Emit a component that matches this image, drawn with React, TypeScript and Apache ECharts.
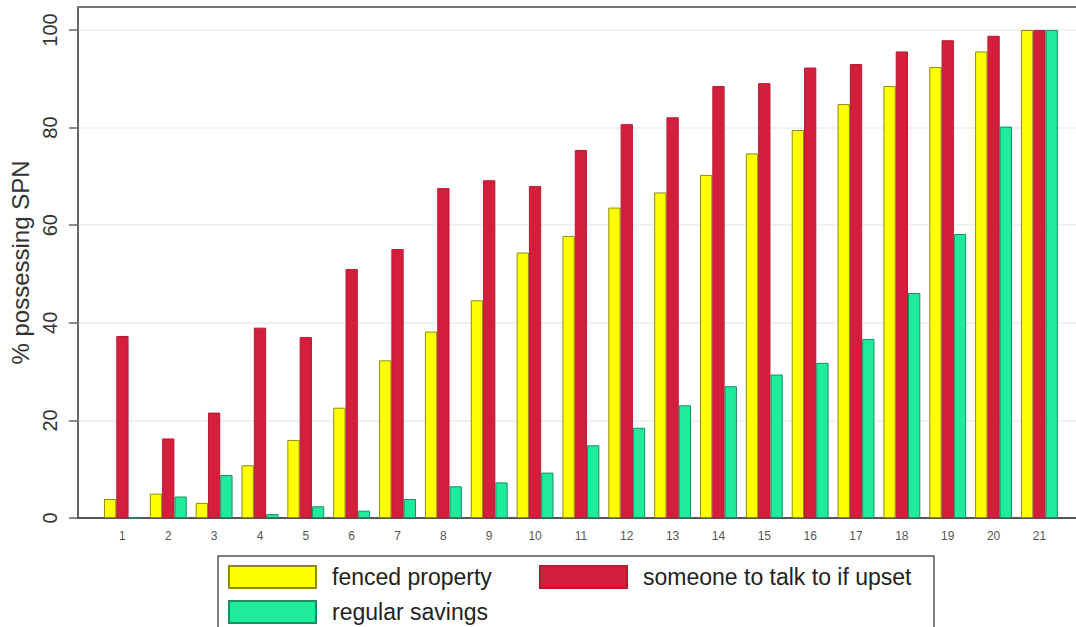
import React, { useEffect, useRef } from "react";
import * as echarts from "echarts";

const categories = [1, 2, 3, 4, 5, 6, 7, 8, 9, 10, 11, 12, 13, 14, 15, 16, 17, 18, 19, 20, 21];
const fencedProperty = [3.9, 5.0, 3.1, 10.8, 16.0, 22.6, 32.3, 38.2, 44.6, 54.4, 57.8, 63.6, 66.7, 70.3, 74.7, 79.5, 84.8, 88.5, 92.4, 95.6, 100];
const someoneToTalk = [37.3, 16.3, 21.6, 39.0, 37.1, 51.0, 55.1, 67.6, 69.2, 68.0, 75.4, 80.7, 82.1, 88.5, 89.1, 92.3, 93.0, 95.6, 97.9, 98.8, 100];
const regularSavings = [0, 4.4, 8.8, 0.8, 2.4, 1.5, 3.9, 6.5, 7.3, 9.3, 14.9, 18.5, 23.1, 27.0, 29.4, 31.8, 36.7, 46.1, 58.2, 80.2, 100];
const yTicks = [0, 20, 40, 60, 80, 100];
const seriesNames = ["fenced property", "someone to talk to if upset", "regular savings"];
const yAxisTitle = "% possessing SPN";

const FONT = "'Liberation Sans', Arial, sans-serif";

export default function App() {
  const ref = useRef<HTMLDivElement>(null);
  useEffect(() => {
    if (!ref.current) return;
    const chart = echarts.init(ref.current, null, { renderer: "svg" });
    const toPairs = (vals: number[]) => categories.map((c, i) => [c, vals[i]]);
    const legendBase = {
      icon: "rect",
      itemWidth: 87,
      itemHeight: 22,
      padding: 0,
      selectedMode: false,
      textStyle: { fontSize: 23, fontFamily: FONT, color: "#222", padding: [0, 0, 0, 11] },
    };
    chart.setOption({
      animation: false,
      backgroundColor: "#ffffff",
      textStyle: { fontFamily: FONT },
      grid: { left: 67, right: 0, top: 7, bottom: 109, containLabel: false },
      xAxis: [
        {
          type: "value",
          min: 0.029,
          max: 21.798,
          axisLine: { show: true, lineStyle: { color: "#555", width: 2 } },
          axisTick: { show: false },
          splitLine: { show: false },
          axisLabel: {
            customValues: categories,
            fontSize: 12,
            color: "#555",
            margin: 12,
            fontFamily: FONT,
            formatter: (v: number) => String(Math.round(v)),
          },
        },
        {
          type: "value",
          position: "top",
          min: 0.029,
          max: 21.798,
          axisLine: { show: true, onZero: false, lineStyle: { color: "#777", width: 2 } },
          axisTick: { show: false },
          axisLabel: { show: false },
          splitLine: { show: false },
        },
      ],
      yAxis: {
        type: "value",
        min: 0,
        max: 104.7,
        name: yAxisTitle,
        nameLocation: "middle",
        nameGap: 36,
        nameTextStyle: { fontSize: 24, color: "#333", fontFamily: FONT },
        axisLine: { show: true, lineStyle: { color: "#666", width: 2 } },
        axisTick: { show: true, length: 9, customValues: yTicks, lineStyle: { color: "#666", width: 1.5 } },
        splitLine: { show: true, lineStyle: { color: "#ececec", width: 1.5 } },
        axisLabel: {
          customValues: yTicks,
          rotate: 90,
          fontSize: 20,
          color: "#333",
          margin: 18,
          fontFamily: FONT,
          formatter: (v: number) => String(Math.round(v)),
        },
      },
      legend: [
        { ...legendBase, data: [seriesNames[0]], left: 228, top: 565 },
        { ...legendBase, data: [seriesNames[1]], left: 539, top: 565 },
        { ...legendBase, data: [seriesNames[2]], left: 228, top: 600 },
      ],
      graphic: [
        {
          type: "rect",
          shape: { x: 218, y: 556, width: 716, height: 100 },
          style: { fill: "none", stroke: "#555", lineWidth: 1.5 },
          silent: true,
        },
      ],
      series: [
        {
          name: seriesNames[0],
          type: "bar",
          barWidth: 12.3,
          barGap: "0%",
          data: toPairs(fencedProperty),
          itemStyle: { color: "#ffff00", borderColor: "#8c8c14", borderWidth: 1 },
        },
        {
          name: seriesNames[1],
          type: "bar",
          barWidth: 12.3,
          barGap: "0%",
          data: toPairs(someoneToTalk),
          itemStyle: { color: "#d41f3c", borderColor: "#b81a34", borderWidth: 1 },
        },
        {
          name: seriesNames[2],
          type: "bar",
          barWidth: 12.3,
          barGap: "0%",
          data: toPairs(regularSavings),
          itemStyle: { color: "#1eeb9b", borderColor: "#1a8f62", borderWidth: 1 },
        },
      ],
    });
    return () => chart.dispose();
  }, []);
  return (
    <div
      ref={ref}
      style={{ position: "absolute", left: 0, top: 0, width: 1076, height: 627 }}
    />
  );
}
